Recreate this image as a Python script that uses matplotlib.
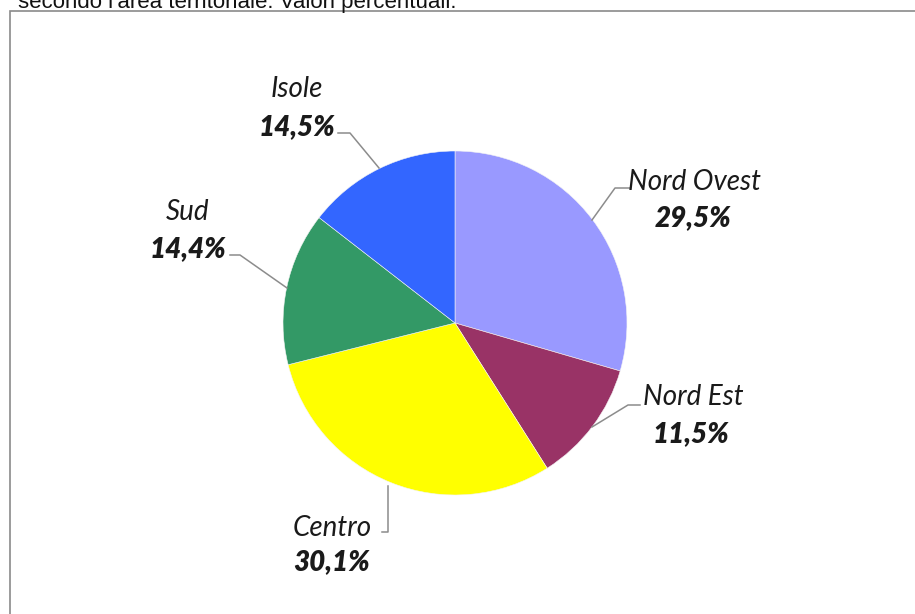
import matplotlib
matplotlib.use("Agg")
import matplotlib.pyplot as plt
from matplotlib.patches import Rectangle

categories = ["Nord Ovest", "Nord Est", "Centro", "Sud", "Isole"]
values = [29.5, 11.5, 30.1, 14.4, 14.5]
value_labels = ["29,5%", "11,5%", "30,1%", "14,4%", "14,5%"]
colors = ["#9999FF", "#993366", "#FFFF00", "#339966", "#3366FF"]
title_text = "secondo l'area territoriale. Valori percentuali."

W, H = 915, 614
fig = plt.figure(figsize=(W / 100, H / 100), dpi=100)
ax = fig.add_axes([0, 0, 1, 1])

def py(y):
    return H - y

ax.pie(values, colors=colors, startangle=90, counterclock=False,
       center=(455, py(323)), radius=172, frame=True,
       wedgeprops=dict(linewidth=0.4, edgecolor="#f4f4f4"))
ax.set_xlim(0, W)
ax.set_ylim(0, H)
ax.set_aspect("equal")
ax.axis("off")

# frame
ax.add_patch(Rectangle((10, -10), W + 20, py(11) + 10, fill=False,
                       edgecolor="#8a8a8a", linewidth=1.2, zorder=0))
fig.text(18 / W, 1 - 8 / H, title_text, fontsize=16, family="Liberation Sans",
         va="baseline", ha="left", color="#111111")

# label layout: name pos, pct pos, leader path (pixel coords)
name_pos = [(694, 182), (693, 397), (332, 528), (188, 212), (297, 89)]
pct_pos = [(693, 218), (691, 434), (332, 562), (188, 249), (297, 127)]
leaders = [
    [(630, 188), (615, 188), (592, 220)],
    [(640, 405), (628, 405), (592, 427)],
    [(382, 532), (388, 532), (388, 486)],
    [(230, 255), (240, 255), (287, 288)],
    [(338, 133), (350, 133), (379, 168)],
]
for i, cat in enumerate(categories):
    nx, ny = name_pos[i]
    px_, pyy = pct_pos[i]
    ax.text(nx, py(ny), cat, ha="center", va="center", fontsize=20,
            family="Lato", style="italic", color="#1a1a1a")
    ax.text(px_, py(pyy), value_labels[i], ha="center", va="center", fontsize=20,
            family="Lato", style="italic", weight="heavy", color="#1a1a1a")
    xs = [p[0] for p in leaders[i]]
    ys = [py(p[1]) for p in leaders[i]]
    ax.plot(xs, ys, color="#8c8c8c", linewidth=1.1)

fig.savefig("out.png", dpi=100)
